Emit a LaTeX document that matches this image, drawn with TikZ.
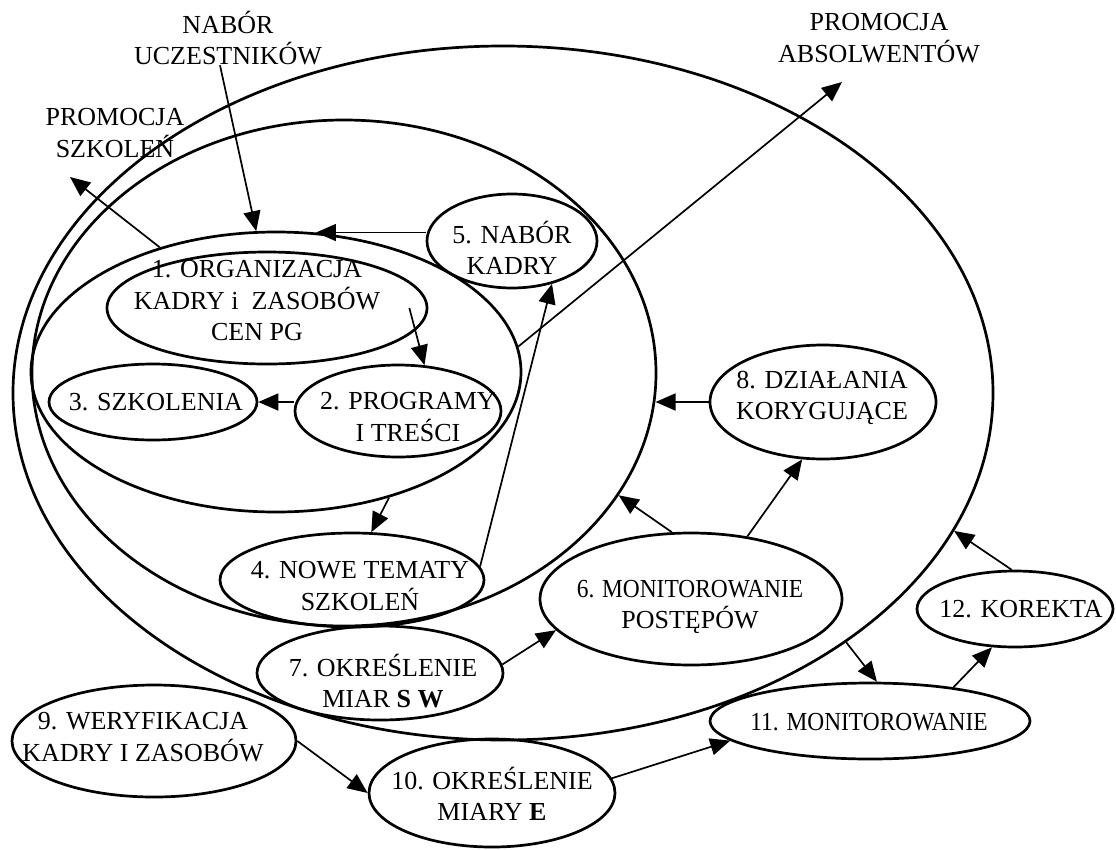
\documentclass[tikz,border=0pt]{standalone}
\usepackage{fontspec}
\usepackage{graphicx}
\setmainfont{Liberation Serif}
\usetikzlibrary{arrows.meta,shapes.geometric}
\newcommand{\narrowtext}[1]{\scalebox{0.9}[1]{#1}}

\begin{document}
\begin{tikzpicture}[x=1pt,y=-1pt,
  ring/.style={draw, ellipse, line width=2.7pt, inner sep=0pt},
  txt/.style={align=center, inner sep=0pt, font=\fontsize{26}{31.5}\selectfont},
  arr/.style={line width=1.7pt, -{Triangle[length=20pt,width=17pt]}}]

\useasboundingbox[fill=white] (0,0) rectangle (1116,849);

% nested process areas
\node[ring, minimum width=980pt, minimum height=694pt] (A) at (503,393) {};
\node[ring, minimum width=624pt, minimum height=506pt] (B) at (344,373) {};
\node[ring, minimum width=490pt, minimum height=280pt] (C) at (276,372) {};

% process steps (outlines)
\node[ring, minimum width=320pt, minimum height=112pt] (n1) at (267,308) {};
\node[ring, minimum width=206pt, minimum height=92pt]  (n2) at (398,411) {};
\node[ring, minimum width=208pt, minimum height=76pt]  (n3) at (153,402) {};
\node[ring, minimum width=264pt, minimum height=94pt]  (n4) at (352,580) {};
\node[ring, minimum width=170pt, minimum height=94pt]  (n5) at (512,241) {};
\node[ring, minimum width=302pt, minimum height=132pt] (n6) at (691,599) {};
\node[ring, minimum width=246pt, minimum height=94pt]  (n7) at (380,673) {};
\node[ring, minimum width=226pt, minimum height=114pt] (n8) at (823,402) {};
\node[ring, minimum width=284pt, minimum height=112pt] (n9) at (154,741) {};
\node[ring, minimum width=246pt, minimum height=108pt] (n10) at (492,793) {};
\node[ring, minimum width=320pt, minimum height=76pt]  (n11) at (870,721) {};
\node[ring, minimum width=196pt, minimum height=76pt]  (n12) at (1015,609) {};

% step texts
\node[txt] (t1) at (257,301) {1. ORGANIZACJA\\KADRY i\ \ ZASOBÓW\\CEN PG};
\node[txt] (t2) at (408,417) {2. PROGRAMY\\I TREŚCI};
\node[txt] (t3) at (156,402) {3. SZKOLENIA};
\node[txt] (t4) at (360,586) {4. NOWE TEMATY\\SZKOLEŃ};
\node[txt] (t5) at (512,248) {5. NABÓR\\KADRY};
\node[txt] (t6) at (690,607) {\narrowtext{6. MONITOROWANIE}\\POSTĘPÓW};
\node[txt] (t7) at (383,681) {7. OKREŚLENIE\\MIAR \textbf{S W}};
\node[txt] (t8) at (822,398) {8. DZIAŁANIA\\KORYGUJĄCE};
\node[txt] (t9) at (143,737) {9. WERYFIKACJA\\KADRY I ZASOBÓW};
\node[txt] (t10) at (492,794) {10. OKREŚLENIE\\MIARY \textbf{E}};
\node[txt] (t11) at (869,722) {\narrowtext{11. MONITOROWANIE}};
\node[txt] (t12) at (1021,609) {12. KOREKTA};

% outer labels
\node[txt] (lab1) at (228,38) {NABÓR\\UCZESTNIKÓW};
\node[txt] (lab2) at (115,133) {PROMOCJA\\SZKOLEŃ};
\node[txt] (lab3) at (879,38) {PROMOCJA\\ABSOLWENTÓW};
\coordinate (ps) at (70,177);
\coordinate (pa) at (842,82);

% flows
\draw[arr] ([xshift=-8pt]lab1.south) -- (C.98);
\draw[arr] (C.133) -- (ps);
\draw[arr] (n5.west |- C.74) -- (C.74);
\draw[arr] ([xshift=-19pt]n1.east) -- (n2.60);
\draw[arr] (n3.east -| n2.west) -- (n3.east);
\draw[arr] (C.-48) -- (n4.68);
\draw[arr] (n4.6) -- (n5.-47);
\draw[arr] (C.6) -- (pa);
\draw[arr] (n8.west) -- (B.-5 |- n8.west);
\draw[arr] (n6.106) -- (B.-24);
\draw[arr] (n6.48) -- (n8.-110);
\draw[arr] (n7.4) -- (n6.-167);
\draw[arr] (A.-36.6) -- (n11.80);
\draw[arr] (n11.22) -- (n12.-121);
\draw[arr] (n12.95) -- (A.-17);
\draw[arr] (n9.east) -- (n10.west);
\draw[arr] (n10.7) -- (n11.-172);
\end{tikzpicture}
\end{document}
